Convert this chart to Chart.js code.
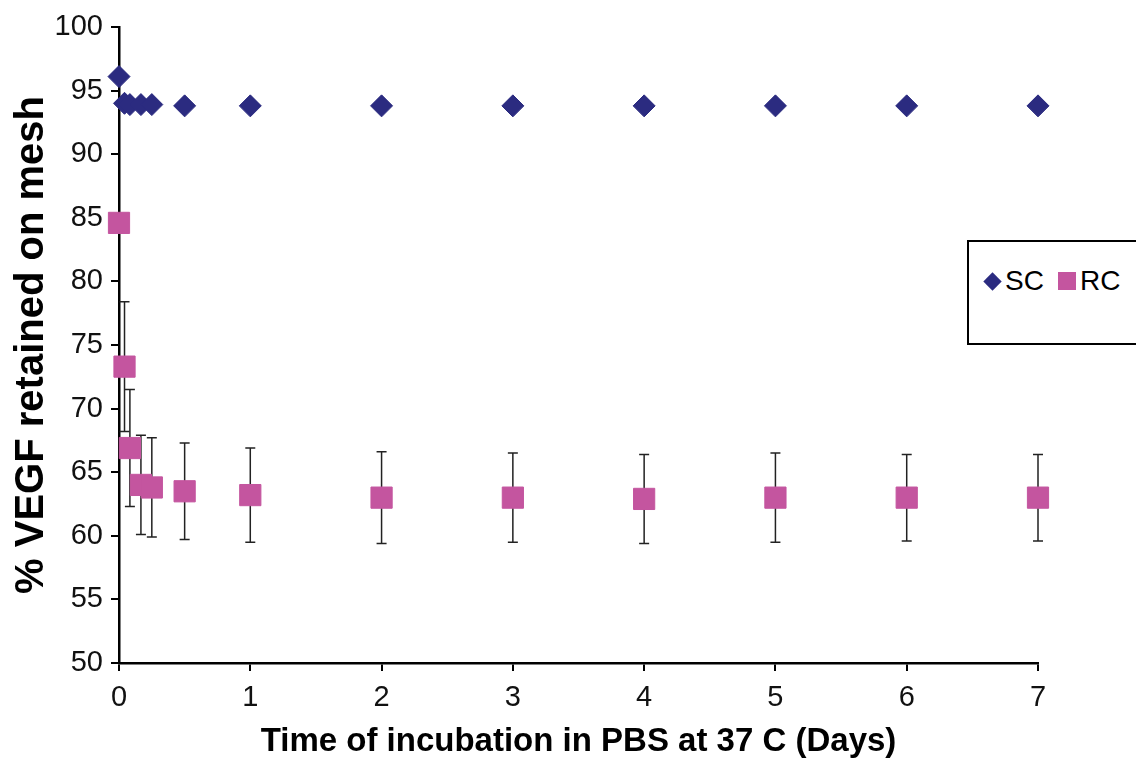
<!DOCTYPE html>
<html>
<head>
<meta charset="utf-8">
<script src="https://cdn.jsdelivr.net/npm/chart.js@4.4.0/dist/chart.umd.min.js"></script>
<style>
  html, body { margin: 0; padding: 0; background: #fff; }
  #wrap { position: relative; width: 1136px; height: 764px; overflow: hidden; }
  #legend {
    position: absolute; left: 967px; top: 240px; width: 200px; height: 105px;
    border: 2px solid #000; box-sizing: border-box; background: #fff;
    font-family: "Liberation Sans", Arial, sans-serif; font-size: 28px; color: #000;
    display: flex; align-items: flex-start; padding: 24px 0 0 14px;
  }
  .item { display: flex; align-items: center; margin-right: 14px; line-height: 30px; }
  .sym { display: inline-block; margin-right: 4px; }
</style>
</head>
<body>
<div id="wrap">
  <canvas id="vegfChart" width="1136" height="764"></canvas>
  <div id="legend"></div>
</div>
<script>
// Tiempos de muestreo (días) y valores
const days = [0, 0.042, 0.083, 0.167, 0.25, 0.5, 1, 2, 3, 4, 5, 6, 7];
const scValues = [96.1, 94.0, 93.9, 93.9, 93.9, 93.8, 93.8, 93.8, 93.8, 93.8, 93.8, 93.8, 93.8];
const rcValues = [84.6, 73.3, 66.9, 64.0, 63.8, 63.5, 63.2, 63.0, 63.0, 62.9, 63.0, 63.0, 63.0];
const rcErrors = [0, 5.1, 4.6, 3.9, 3.9, 3.8, 3.7, 3.6, 3.5, 3.5, 3.5, 3.4, 3.4];
const xTicks = [0, 1, 2, 3, 4, 5, 6, 7];
const yTicks = [50, 55, 60, 65, 70, 75, 80, 85, 90, 95, 100];

const SC_COLOR = '#2b2b80';
const RC_COLOR = '#c4559f';
const FONT = '"Liberation Sans", Arial, sans-serif';

// Barras de error de RC, dibujadas detrás de los marcadores
const errorBars = {
    id: 'errorBars',
    beforeDatasetsDraw(chart) {
        const { ctx, scales: { x, y } } = chart;
        ctx.save();
        ctx.strokeStyle = '#222';
        ctx.lineWidth = 1.5;
        days.forEach((d, i) => {
            const e = rcErrors[i];
            if (!e) return;
            const px = x.getPixelForValue(d);
            const top = y.getPixelForValue(rcValues[i] + e);
            const bot = y.getPixelForValue(rcValues[i] - e);
            ctx.beginPath();
            ctx.moveTo(px, top); ctx.lineTo(px, bot);
            ctx.moveTo(px - 5, top); ctx.lineTo(px + 5, top);
            ctx.moveTo(px - 5, bot); ctx.lineTo(px + 5, bot);
            ctx.stroke();
        });
        ctx.restore();
    }
};

const ctx = document.getElementById('vegfChart').getContext('2d');
const chart = new Chart(ctx, {
    type: 'scatter',
    data: {
        datasets: [{
            label: 'SC',
            data: days.map((d, i) => ({ x: d, y: scValues[i] })),
            pointStyle: 'rectRot',
            pointRadius: 11,
            backgroundColor: SC_COLOR,
            borderColor: SC_COLOR,
            borderWidth: 1,
            clip: false
        }, {
            label: 'RC',
            data: days.map((d, i) => ({ x: d, y: rcValues[i] })),
            pointStyle: 'rect',
            pointRadius: 15,
            backgroundColor: RC_COLOR,
            borderColor: RC_COLOR,
            borderWidth: 1,
            clip: false
        }]
    },
    options: {
        responsive: false,
        animation: false,
        layout: { padding: { left: 0, right: 98, top: 27, bottom: 0 } },
        plugins: {
            legend: { display: false },
            tooltip: { enabled: false }
        },
        scales: {
            x: {
                type: 'linear',
                min: 0,
                max: 7,
                afterBuildTicks: s => { s.ticks = xTicks.map(v => ({ value: v })); },
                afterFit: s => { s.height = 101; },
                ticks: { color: '#111', font: { family: FONT, size: 29 }, padding: 10 },
                grid: { drawOnChartArea: false, tickLength: 8, color: '#000', lineWidth: 2 },
                border: { color: '#000', width: 2.5 },
                title: {
                    display: true,
                    text: 'Time of incubation in PBS at 37 C (Days)',
                    color: '#000',
                    font: { family: FONT, size: 33, weight: 'bold' },
                    padding: { top: 0, bottom: 2 }
                }
            },
            y: {
                min: 50,
                max: 100,
                afterBuildTicks: s => { s.ticks = yTicks.map(v => ({ value: v })); },
                afterFit: s => { s.width = 119; },
                ticks: { color: '#111', font: { family: FONT, size: 29 }, padding: 8 },
                grid: { drawOnChartArea: false, tickLength: 8, color: '#000', lineWidth: 2 },
                border: { color: '#000', width: 2.5 },
                title: {
                    display: true,
                    text: '% VEGF retained on mesh',
                    color: '#000',
                    font: { family: FONT, size: 40, weight: 'bold' },
                    padding: { top: 8, bottom: 0 }
                }
            }
        }
    },
    plugins: [errorBars]
});

// Leyenda en HTML a partir de los datasets
const legend = document.getElementById('legend');
chart.data.datasets.forEach(ds => {
    const item = document.createElement('span');
    item.className = 'item';
    const sym = document.createElement('span');
    sym.className = 'sym';
    sym.style.background = ds.backgroundColor;
    if (ds.pointStyle === 'rectRot') {
        sym.style.width = '13px';
        sym.style.height = '13px';
        sym.style.transform = 'rotate(45deg)';
        sym.style.margin = '0 6px 0 3px';
    } else {
        sym.style.width = '18px';
        sym.style.height = '18px';
    }
    item.appendChild(sym);
    item.appendChild(document.createTextNode(ds.label));
    legend.appendChild(item);
});
</script>
</body>
</html>
